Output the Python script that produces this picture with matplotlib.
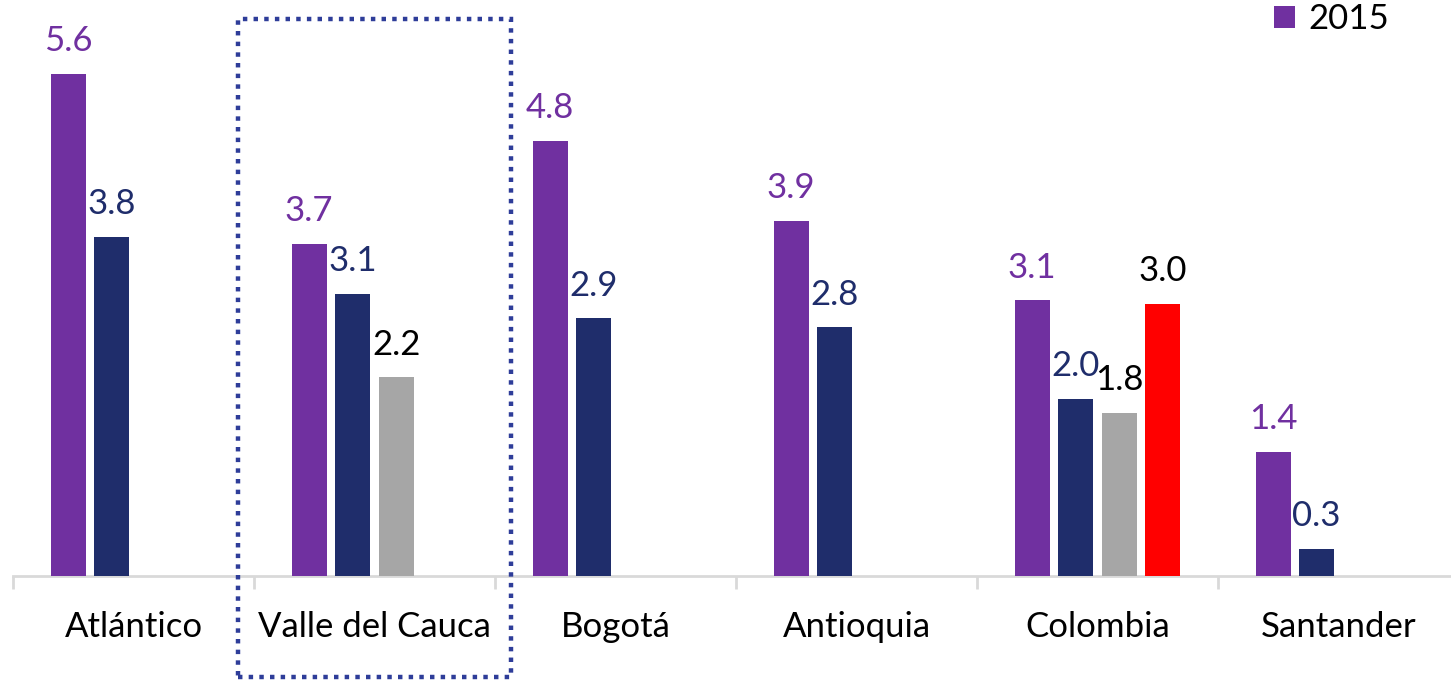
import numpy as np
import matplotlib
matplotlib.use("Agg")
import matplotlib.pyplot as plt
from matplotlib.patches import Rectangle

categories = ["Atlántico", "Valle del Cauca", "Bogotá", "Antioquia", "Colombia", "Santander"]
series_names = ["2015", "Serie 2", "Serie 3", "Serie 4"]
# bar heights
s2015 = [5.61, 3.71, 4.86, 3.97, 3.08, 1.39]
s2 = [3.79, 3.15, 2.88, 2.78, 1.98, 0.30]
s3 = [np.nan, 2.22, np.nan, np.nan, 1.82, np.nan]
s4 = [np.nan, np.nan, np.nan, np.nan, 3.04, np.nan]
# data labels as printed
l2015 = ["5.6", "3.7", "4.8", "3.9", "3.1", "1.4"]
l2 = ["3.8", "3.1", "2.9", "2.8", "2.0", "0.3"]
l3 = ["", "2.2", "", "", "1.8", ""]
l4 = ["", "", "", "", "3.0", ""]
bar_colors = ["#7030A0", "#1F2D6B", "#A6A6A6", "#FF0000"]
label_colors = ["#7030A0", "#1F2D6B", "#000000", "#000000"]

plt.rcParams['font.family'] = ['Lato', 'DejaVu Sans']

W, H = 1451, 680
fig = plt.figure(figsize=(W / 100, H / 100), dpi=100)
ax_left, ax_right = 13, 1459
base_y = 576
ax = fig.add_axes([ax_left / W, (H - base_y) / H, (ax_right - ax_left) / W, base_y / H])
ppu = 89.5
ax.set_ylim(0, base_y / ppu)
ax.set_xlim(-0.5, len(categories) - 0.5)

x = np.arange(len(categories))
slot = 43.5 / 241
bw = 35 / 241
all_series = [s2015, s2, s3, s4]
all_labels = [l2015, l2, l3, l4]
for i, (vals, labs) in enumerate(zip(all_series, all_labels)):
    pos = x + (i - 1.5) * slot
    v = np.array(vals, dtype=float)
    ax.bar(pos, v, width=bw, color=bar_colors[i],
           label=series_names[i] if i == 0 else "_nolegend_", zorder=3)
    for p, val, lab in zip(pos, v, labs):
        if not np.isnan(val) and lab:
            ax.annotate(lab, (p, val), xytext=(0, 12), textcoords="offset points",
                        ha="center", va="bottom", fontsize=25, color=label_colors[i])

for s in ["top", "right", "left"]:
    ax.spines[s].set_visible(False)
ax.spines["bottom"].set_color("#D9D9D9")
ax.spines["bottom"].set_linewidth(2)
ax.set_yticks([])
ax.set_xticks(x)
ax.set_xticklabels(categories, fontsize=25)
ax.tick_params(axis="x", which="major", length=0, pad=25)
ax.set_xticks(np.arange(-0.5, len(categories) + 0.5, 1), minor=True)
ax.tick_params(axis="x", which="minor", length=9, width=2, color="#D9D9D9")

ax.legend(loc="upper right", bbox_to_anchor=(1393 / W, 1.0), bbox_transform=fig.transFigure,
          frameon=False, fontsize=25, handlelength=0.6, handleheight=0.6,
          handletextpad=0.4, borderaxespad=0.0, borderpad=0.1)

rect = Rectangle((238 / W, (H - 677) / H), (511 - 238) / W, (677 - 19) / H,
                 transform=fig.transFigure, fill=False, edgecolor="#2E3D99",
                 linewidth=3.2, linestyle=(0, (1, 1.4)), zorder=10)
fig.patches.append(rect)

fig.savefig("out.png", dpi=100)
